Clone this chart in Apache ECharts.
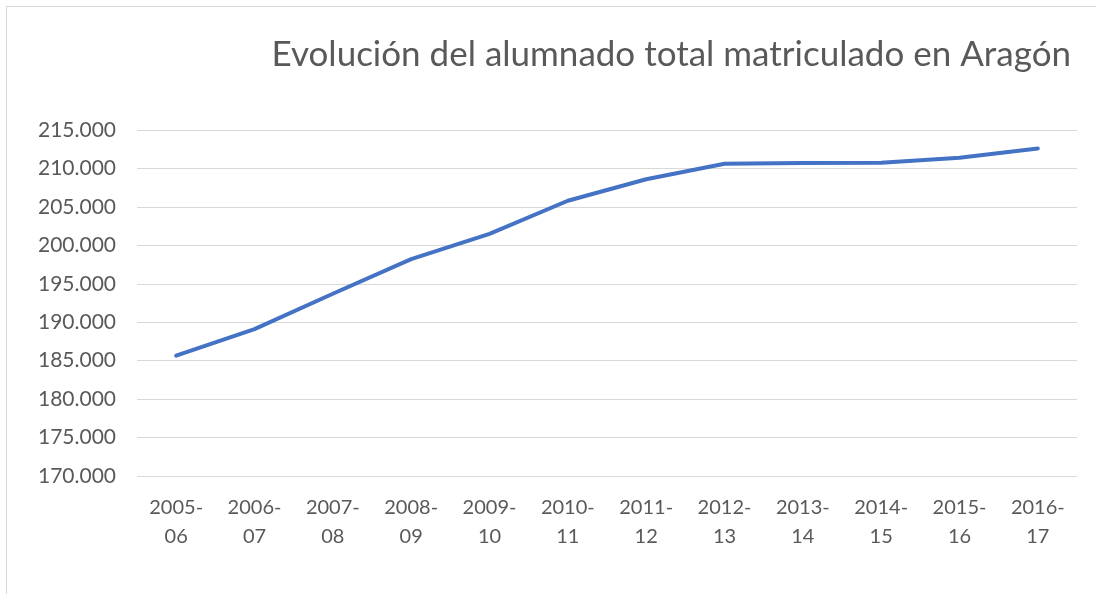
<!DOCTYPE html>
<html>
<head>
<meta charset="utf-8">
<script src="https://cdn.jsdelivr.net/npm/echarts@6/dist/echarts.min.js"></script>
<style>
  html, body { margin: 0; padding: 0; background: #fff; }
  #frame {
    position: absolute; left: 6px; top: 6px; width: 1090px; height: 588px;
    border-left: 1px solid #d9d9d9; border-top: 1px solid #d9d9d9;
    box-sizing: border-box;
  }
  #chartLine { position: absolute; left: 0; top: 0; width: 1096px; height: 594px; }
</style>
</head>
<body>
<div id="frame"></div>
<div id="chartLine"></div>
<script>
// cursos escolares
const cursos = ['2005-\n06', '2006-\n07', '2007-\n08', '2008-\n09', '2009-\n10', '2010-\n11',
  '2011-\n12', '2012-\n13', '2013-\n14', '2014-\n15', '2015-\n16', '2016-\n17']
// alumnado total matriculado
const alumnado = [185650, 189100, 193700, 198200, 201500, 205800,
  208600, 210600, 210700, 210750, 211400, 212600]
const yMin = 170000
const yMax = 215000
const yStep = 5000

const chartLine = echarts.init(document.getElementById('chartLine'))
chartLine.setOption({
  animation: false,
  title: {
    text: 'Evolución del alumnado total matriculado en Aragón',
    right: 20,
    top: 32,
    textStyle: {
      fontFamily: 'Lato',
      fontWeight: 'normal',
      fontSize: 35,
      color: '#595959'
    }
  },
  grid: {
    left: 137,
    right: 19,
    top: 130,
    bottom: 118
  },
  xAxis: {
    type: 'category',
    boundaryGap: true,
    data: cursos,
    axisLine: { show: false },
    axisTick: { show: false },
    axisLabel: {
      margin: 17,
      fontFamily: 'Lato',
      fontSize: 20,
      lineHeight: 29,
      color: '#595959',
      interval: 0
    }
  },
  yAxis: {
    type: 'value',
    min: yMin,
    max: yMax,
    interval: yStep,
    axisLine: { show: false },
    axisTick: { show: false },
    splitLine: { show: true, lineStyle: { color: '#d9d9d9', width: 1 } },
    axisLabel: {
      margin: 21,
      fontFamily: 'Lato',
      fontSize: 21,
      color: '#595959',
      formatter: function (v) {
        return String(v).replace(/\B(?=(\d{3})+(?!\d))/g, '.')
      }
    }
  },
  series: [
    {
      name: 'Alumnado',
      type: 'line',
      data: alumnado,
      symbol: 'none',
      lineStyle: {
        color: '#4472C4',
        width: 4,
        cap: 'round',
        join: 'round'
      }
    }
  ]
})
</script>
</body>
</html>
